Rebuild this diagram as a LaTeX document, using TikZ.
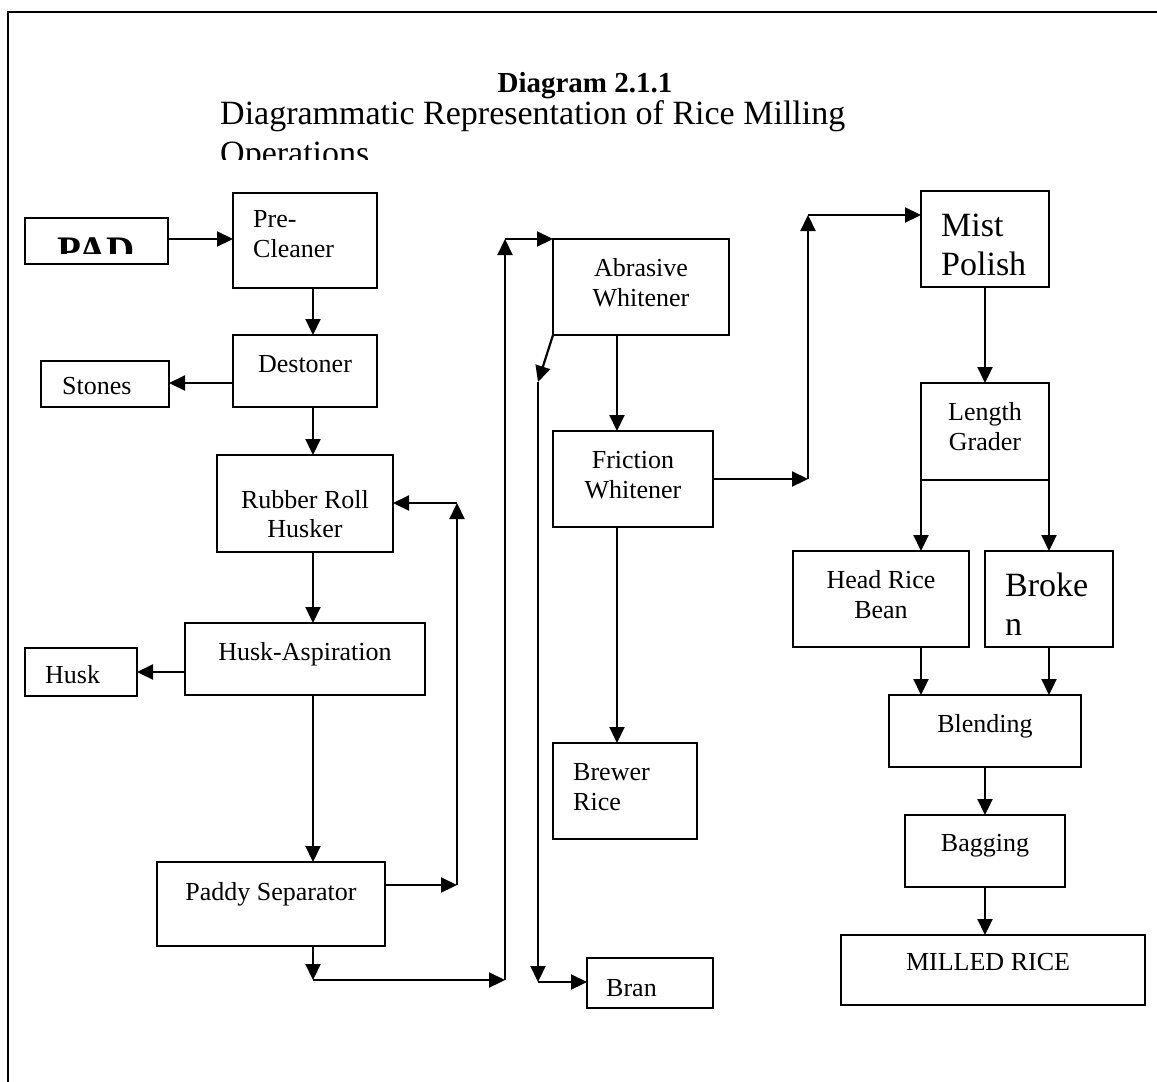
\documentclass[tikz,border=0pt]{standalone}
\usepackage{fontspec}
\setmainfont{Liberation Serif}
\usetikzlibrary{arrows.meta}
\newcommand\mybox[5]{\node[box, minimum width={(#4)-(#2)}, minimum height={(#5)-(#3)}] (#1) at ({((#2)+(#4))/2},{((#3)+(#5))/2}) {};}
\begin{document}
\begin{tikzpicture}[x=1pt,y=-1pt,
  box/.style={draw, line width=1.8pt, inner sep=0pt, outer sep=0pt},
  arr/.style={line width=2.2pt, -{Triangle[length=16pt,width=15pt]}},
  txt/.style={inner sep=0pt, font=\fontsize{26}{30}\selectfont},
  big/.style={inner sep=0pt, font=\fontsize{34}{40}\selectfont}]
\useasboundingbox (0,0) rectangle (1157,1082);
\draw[line width=2.8pt] (8,1095) -- (8,12) -- (1170,12);
% title
\node[anchor=base, inner sep=0pt, font=\bfseries\fontsize{29}{34}\selectfont] (t1) at (585,92) {Diagram 2.1.1};
\node[anchor=base west, big] (t2) at (220,124) {Diagrammatic Representation of Rice Milling};
\begin{scope}
\clip (200,130) rectangle (900,159);
\node[anchor=base west, big] (t3) at (220,164) {Operations};
\end{scope}
% boxes
\mybox{pad}{25}{218}{168}{264}
\mybox{pre}{233}{193}{377}{288}
\mybox{dest}{233}{335}{377}{407}
\mybox{stones}{41}{361}{169}{407}
\mybox{rub}{217}{455}{393}{552}
\mybox{hasp}{185}{623}{425}{695}
\mybox{husk}{25}{648}{137}{696}
\mybox{paddy}{157}{862}{385}{946}
\mybox{abr}{553}{239}{729}{335}
\mybox{fric}{553}{431}{713}{527}
\mybox{brew}{553}{743}{697}{839}
\mybox{bran}{587}{958}{713}{1008}
\mybox{mist}{921}{191}{1049}{287}
\mybox{len}{921}{383}{1049}{480}
\mybox{head}{793}{551}{969}{647}
\mybox{brok}{985}{551}{1113}{647}
\mybox{blend}{889}{695}{1081}{767}
\mybox{bag}{905}{815}{1065}{887}
\mybox{milled}{841}{935}{1145}{1005}
% texts
\begin{scope}
\clip (25,218) rectangle (168,253);
\node[anchor=base west, inner sep=0pt, font=\bfseries\fontsize{39}{44}\selectfont] (padT) at (57,263) {PAD};
\end{scope}
\node[txt, anchor=base west] (preT1) at (253,227) {Pre-};
\node[txt, anchor=base west] (preT2) at (253,257) {Cleaner};
\node[txt, anchor=base] (destT) at (305,372) {Destoner};
\node[txt, anchor=base west] (stonesT) at (62,394) {Stones};
\node[txt, anchor=base] (rubT1) at (305,508) {Rubber Roll};
\node[txt, anchor=base] (rubT2) at (305,537) {Husker};
\node[txt, anchor=base] (haspT) at (305,660) {Husk-Aspiration};
\node[txt, anchor=base west] (huskT) at (45,683) {Husk};
\node[txt, anchor=base] (paddyT) at (271,900) {Paddy Separator};
\node[txt, anchor=base] (abrT1) at (641,276) {Abrasive};
\node[txt, anchor=base] (abrT2) at (641,306) {Whitener};
\node[txt, anchor=base] (fricT1) at (633,468) {Friction};
\node[txt, anchor=base] (fricT2) at (633,498) {Whitener};
\node[txt, anchor=base west] (brewT1) at (573,780) {Brewer};
\node[txt, anchor=base west] (brewT2) at (573,810) {Rice};
\node[txt, anchor=base west] (branT) at (606,996) {Bran};
\node[big, anchor=base west] (mistT1) at (941,236) {Mist};
\node[big, anchor=base west] (mistT2) at (941,275) {Polish};
\node[txt, anchor=base] (lenT1) at (985,420) {Length};
\node[txt, anchor=base] (lenT2) at (985,450) {Grader};
\node[txt, anchor=base] (headT1) at (881,588) {Head Rice};
\node[txt, anchor=base] (headT2) at (881,618) {Bean};
\node[big, anchor=base west] (brokT1) at (1005,596) {Broke};
\node[big, anchor=base west] (brokT2) at (1005,635) {n};
\node[txt, anchor=base] (blendT) at (985,732) {Blending};
\node[txt, anchor=base] (bagT) at (985,851) {Bagging};
\node[txt, anchor=base] (milledT) at (988,970) {MILLED RICE};
% connectors
\draw[arr] (pad.east |- 0,239) -- (pre.west |- 0,239);
\draw[arr] (313,0 |- pre.south) -- (313,0 |- dest.north);
\draw[arr] (dest.west |- 0,383) -- (stones.east |- 0,383);
\draw[arr] (313,0 |- dest.south) -- (313,0 |- rub.north);
\draw[arr] (313,0 |- rub.south) -- (313,0 |- hasp.north);
\draw[arr] (hasp.west |- 0,672) -- (husk.east |- 0,672);
\draw[arr] (313,0 |- hasp.south) -- (313,0 |- paddy.north);
\coordinate (r1) at (457,885);
\coordinate (r2) at (457,503);
\draw[arr] (paddy.east |- r1) -- (r1);
\draw[arr] (r1) -- (r2);
\draw[arr] (r2) -- (rub.east |- r2);
\coordinate (b1) at (313,980);
\coordinate (b2) at (505,980);
\coordinate (b3) at (505,239);
\draw[arr] (313,0 |- paddy.south) -- (b1);
\draw[arr] (b1) -- (b2);
\draw[arr] (b2) -- (b3);
\draw[arr] (b3) -- (abr.north west);
\coordinate (d1) at (538,382);
\coordinate (d2) at (538,982);
\draw[arr] (abr.south west) -- (d1);
\draw[arr] (d1) -- (d2);
\draw[arr] (d2) -- (bran.west |- d2);
\draw[arr] (617,0 |- abr.south) -- (617,0 |- fric.north);
\draw[arr] (617,0 |- fric.south) -- (617,0 |- brew.north);
\coordinate (f1) at (808,479);
\coordinate (f2) at (808,215);
\draw[arr] (fric.east |- f1) -- (f1);
\draw[arr] (f1) -- (f2);
\draw[arr] (f2) -- (mist.west |- f2);
\draw[arr] (mist.south) -- (len.north);
\draw[arr] (len.south west) -- (len.south west |- head.north);
\draw[arr] (len.south east) -- (len.south east |- brok.north);
\draw[arr] (921,0 |- head.south) -- (921,0 |- blend.north);
\draw[arr] (1049,0 |- brok.south) -- (1049,0 |- blend.north);
\draw[arr] (blend.south) -- (bag.north);
\draw[arr] (985,0 |- bag.south) -- (985,0 |- milled.north);
\end{tikzpicture}
\end{document}
